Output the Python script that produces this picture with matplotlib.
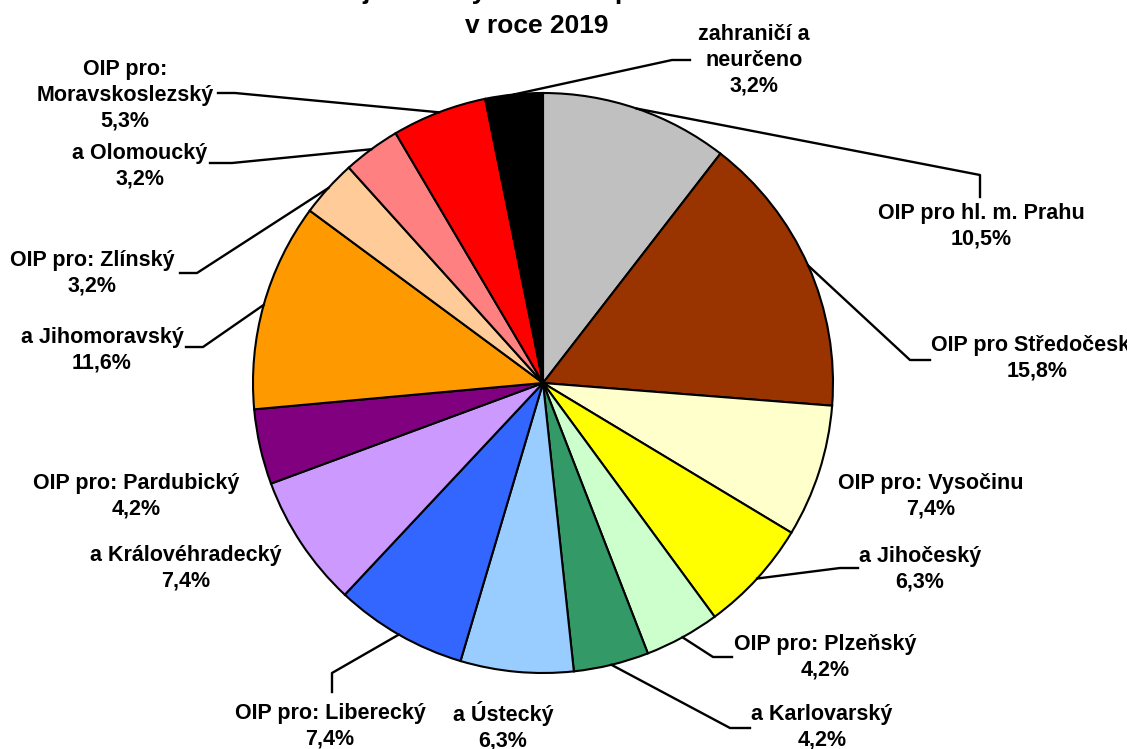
# -*- coding: utf-8 -*-

import numpy as np
import matplotlib
matplotlib.use('Agg')
import matplotlib.pyplot as plt

plt.rcParams['font.family'] = ['Liberation Sans', 'DejaVu Sans']

W, H = 1127, 749

# data
names = ['OIP pro hl. m. Prahu', 'OIP pro Středočeský', 'OIP pro: Vysočinu',
         'a Jihočeský', 'OIP pro: Plzeňský', 'a Karlovarský', 'a Ústecký',
         'OIP pro: Liberecký', 'a Královéhradecký', 'OIP pro: Pardubický',
         'a Jihomoravský', 'OIP pro: Zlínský', 'a Olomoucký',
         'OIP pro:\nMoravskoslezský', 'zahraničí a\nneurčeno']
values = [10.5, 15.8, 7.4, 6.3, 4.2, 4.2, 6.3, 7.4, 7.4, 4.2, 11.6, 3.2, 3.2, 5.3, 3.2]
colors = ['#C0C0C0', '#993300', '#FFFFCC', '#FFFF00', '#CCFFCC', '#339966',
          '#99CCFF', '#3366FF', '#CC99FF', '#800080', '#FF9900', '#FFCC99',
          '#FF8080', '#FF0000', '#000000']
title_lines = ['Podíl jednotlivých OIP na počtu kontrol', 'v roce 2019']

# layout (pixels from top-left)
label_pos = [(981, 226), (1037, 358), (931, 496), (920, 569), (825, 657),
             (822, 727), (503, 726), (330, 726), (186, 568), (136, 496),
             (102, 350), (92, 273), (140, 166), (125, 95), (754, 60)]
leaders = [[(980, 175), (980, 197)], [(910, 360), (930, 360)], None,
           [(840, 568), (858, 568)], [(713, 657), (732, 657)],
           [(730, 728), (750, 728)], None, [(332, 673), (332, 692)], None, None,
           [(203, 347), (186, 347)], [(197, 273), (180, 273)],
           [(232, 163), (210, 163)], [(235, 93), (218, 93)],
           [(672, 60), (690, 60)]]


def px(x, y):
	return x, H - y


fig = plt.figure(figsize=(W / 100, H / 100), dpi=100)
ax = fig.add_axes([0, 0, 1, 1])

cx, cy = px(543, 383)
R = 290
wedges, _ = ax.pie(values, colors=colors, startangle=90, counterclock=False,
                   center=(cx, cy), radius=R,
                   wedgeprops=dict(edgecolor='black', linewidth=1.5))
ax.set_xlim(0, W)
ax.set_ylim(0, H)
ax.set_aspect('equal', adjustable='box')
ax.axis('off')

for i, w in enumerate(wedges):
	pct = ('%.1f%%' % values[i]).replace('.', ',')
	tx, ty = px(*label_pos[i])
	ax.text(tx, ty, names[i] + '\n' + pct, ha='center', va='center',
	        fontsize=15.5, fontweight='bold', linespacing=1.3)
	if leaders[i] is not None:
		# leader starts on the rim at the middle of the slice
		mid = np.deg2rad((w.theta1 + w.theta2) / 2)
		ax_ = cx + R * np.cos(mid)
		ay_ = cy + R * np.sin(mid)
		pts = [(ax_, ay_)] + [px(*p) for p in leaders[i]]
		ax.plot([p[0] for p in pts], [p[1] for p in pts], color='black', lw=1.7)

# first title line sits above the canvas, only its descenders show
ax.text(537, H + 1, title_lines[0], ha='center', va='baseline',
        fontsize=19, fontweight='bold')
ax.text(537, H - 33, title_lines[1], ha='center', va='baseline',
        fontsize=19, fontweight='bold')

fig.savefig('out.png', dpi=100)
